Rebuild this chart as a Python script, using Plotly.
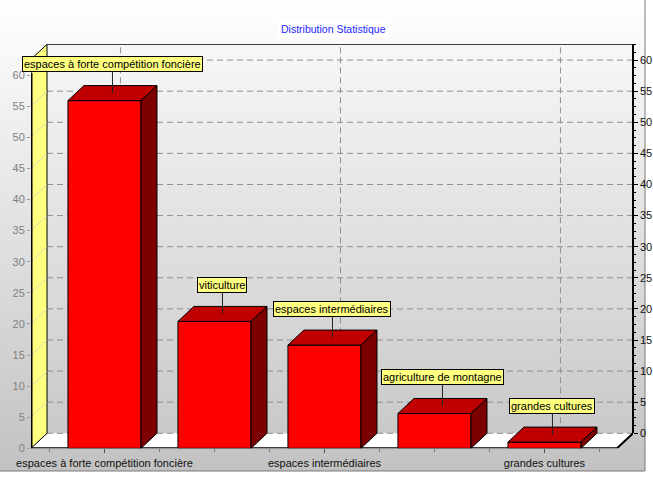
import plotly.graph_objects as go

categories = [
    "espaces à forte compétition foncière",
    "viticulture",
    "espaces intermédiaires",
    "agriculture de montagne",
    "grandes cultures",
]
values = [55.9, 20.4, 16.6, 5.6, 1.0]
y_ticks = list(range(0, 61, 5))
x_label_idx = [0, 2, 4]

W, H = 653, 479
FONT = "Liberation Sans, Arial, sans-serif"

# pixel frame of the pseudo 3D box (front-left / front-bottom, back-right / back-top)
FRONT_L, BACK_R = 31, 633
FRONT_B, BACK_T = 448.3, 44.3
X_RANGE = [-0.668, 4.805]
Y_RANGE = [0, 64.95]
px_x = (BACK_R - FRONT_L) / (X_RANGE[1] - X_RANGE[0])
px_y = (FRONT_B - BACK_T) / (Y_RANGE[1] - Y_RANGE[0])
DX = 16 / px_x          # depth offset in data units
DY = 15 / px_y
BAR_W = 0.664
XL, XR = X_RANGE
YTOP = Y_RANGE[1]

fig = go.Figure()

# --- subplot 1: panel background (pixel coords) ---
fig.add_trace(go.Scatter(
    x=[0, 645, 645, 0, 0], y=[H - 471, H - 471, H, H, H - 471],
    mode="lines", line=dict(width=0), fill="toself",
    fillgradient=dict(type="vertical", colorscale=[[0, "#c2c2c2"], [1, "#ffffff"]]),
    xaxis="x", yaxis="y", hoverinfo="skip", showlegend=False))
fig.add_trace(go.Scatter(
    x=[0, 645, 645], y=[H - 471, H - 471, H], mode="lines",
    line=dict(color="#7a7a7a", width=1), xaxis="x", yaxis="y",
    hoverinfo="skip", showlegend=False))

# --- subplot 2: walls, floor, grid ---
def poly(xs, ys, fill=None, line_color="black", width=1, **kw):
    fig.add_trace(go.Scatter(
        x=xs + [xs[0]] if fill else xs, y=ys + [ys[0]] if fill else ys,
        mode="lines", fill="toself" if fill else None,
        fillcolor=fill if isinstance(fill, str) else None,
        line=dict(color=line_color, width=width, **kw.pop("line_kw", {})),
        xaxis="x2", yaxis="y2", hoverinfo="skip", showlegend=False, **kw))

# back wall
fig.add_trace(go.Scatter(
    x=[XL + DX, XR, XR, XL + DX, XL + DX], y=[DY, DY, YTOP, YTOP, DY],
    mode="lines", line=dict(width=0), fill="toself",
    fillgradient=dict(type="vertical", colorscale=[[0, "#c9c9c9"], [1, "#f7f7f7"]]),
    xaxis="x2", yaxis="y2", hoverinfo="skip", showlegend=False))

# floor
poly([XL, XR - DX, XR, XL + DX], [0, 0, DY, DY], fill="#ffffff", width=0)

# horizontal grid on back wall
gx, gy = [], []
for v in y_ticks:
    gx += [XL + DX, XR, None]
    gy += [v + DY, v + DY, None]
poly(gx, gy, line_color="#8e8e8e", width=1, line_kw=dict(dash="6px,4px"))

# vertical grid on back wall
vx, vy = [], []
for i in x_label_idx:
    vx += [i + DX, i + DX, None]
    vy += [DY, YTOP, None]
poly(vx, vy, line_color="#8e8e8e", width=1, line_kw=dict(dash="6px,4px"))

# left wall
poly([XL, XL, XL + DX, XL + DX], [0, YTOP - DY, YTOP, DY], fill="#ffff80", width=1)
dx_, dy_ = [], []
for v in y_ticks[1:]:
    dx_ += [XL, XL + DX, None]
    dy_ += [v, v + DY, None]
poly(dx_, dy_, line_color="#d9d9b0", width=1)

# frame edges
poly([XL + DX, XR], [YTOP, YTOP], width=1.5)
poly([XL, XR - DX, XR], [0, 0, DY], width=2)
poly([XL, XL], [0, 60.3], width=3)

# --- subplot 3: bars ---
idx = list(range(len(values)))
fig.add_trace(go.Bar(
    x=idx, y=values, width=BAR_W, xaxis="x3", yaxis="y3",
    marker=dict(color="#ff0000", line=dict(color="black", width=1)),
    hoverinfo="skip", showlegend=False))

for i, v in zip(idx, values):
    l, r = i - BAR_W / 2, i + BAR_W / 2
    fig.add_trace(go.Scatter(
        x=[l, r, r + DX, l + DX, l], y=[v, v, v + DY, v + DY, v],
        mode="lines", fill="toself", fillcolor="#c00000",
        line=dict(color="black", width=1), xaxis="x3", yaxis="y3",
        hoverinfo="skip", showlegend=False))
    fig.add_trace(go.Scatter(
        x=[r, r + DX, r + DX, r, r], y=[0, DY, v + DY, v, 0],
        mode="lines", fill="toself", fillcolor="#7c0000",
        line=dict(color="black", width=1), xaxis="x3", yaxis="y3",
        hoverinfo="skip", showlegend=False))

# dummy trace for the back right axis
fig.add_trace(go.Scatter(x=[None], y=[None], xaxis="x3", yaxis="y4",
                         hoverinfo="skip", showlegend=False))

# mark labels
for i, v, name in zip(idx, values, categories):
    fig.add_annotation(
        x=i + DX / 2, y=v + DY / 2, xref="x3", yref="y3", text=name,
        showarrow=True, arrowhead=0, arrowwidth=1, arrowcolor="#222",
        ax=0, ay=-29, bgcolor="#ffff80", bordercolor="black",
        borderwidth=1, borderpad=1, font=dict(family=FONT, size=11, color="black"))

fig.add_annotation(
    x=333 / W, y=1 - 29 / H, xref="paper", yref="paper", showarrow=False,
    xanchor="center", yanchor="middle",
    text="Distribution Statistique", bgcolor="#ffffff", borderpad=2,
    font=dict(family=FONT, size=10.5, color="#1e1eff"))

x_dom = [FRONT_L / W, BACK_R / W]
y_dom = [(H - FRONT_B) / H, (H - BACK_T) / H]
hidden = dict(visible=False, fixedrange=True, automargin=False)

fig.update_layout(
    width=W, height=H,
    margin=dict(l=0, r=0, t=0, b=0, pad=0, autoexpand=False),
    paper_bgcolor="#ffffff", plot_bgcolor="rgba(0,0,0,0)",
    font=dict(family=FONT, size=11, color="black"),
    showlegend=False,
    xaxis=dict(domain=[0, 1], range=[0, W], **hidden),
    yaxis=dict(domain=[0, 1], range=[0, H], **hidden),
    xaxis2=dict(domain=x_dom, range=X_RANGE, anchor="y2", **hidden),
    yaxis2=dict(domain=y_dom, range=Y_RANGE, anchor="x2", **hidden),
    xaxis3=dict(
        domain=x_dom, range=X_RANGE, anchor="y3", showgrid=False, zeroline=False,
        showline=False, tickmode="array", tickvals=x_label_idx,
        ticktext=[categories[i] for i in x_label_idx],
        ticks="outside", ticklen=4, tickcolor="#555", automargin=False,
        tickfont=dict(family=FONT, size=11, color="#111"),
        minor=dict(ticks="outside", ticklen=3, tickcolor="#777", dtick=0.5, tick0=0),
        fixedrange=True),
    yaxis3=dict(
        domain=y_dom, range=Y_RANGE, anchor="x3", showgrid=False, zeroline=False,
        showline=False, tickmode="array", tickvals=y_ticks, automargin=False,
        ticks="outside", ticklen=3, tickcolor="#9a9a9a",
        tickfont=dict(family=FONT, size=11, color="#808080"),
        fixedrange=True),
    yaxis4=dict(
        domain=[(H - (FRONT_B - 15)) / H, (H - BACK_T) / H],
        range=[0, (FRONT_B - 15 - BACK_T) / px_y],
        anchor="free", position=BACK_R / W, side="right", automargin=False,
        showgrid=False, zeroline=False, showline=True, linecolor="black", linewidth=1.5,
        tickmode="array", tickvals=y_ticks, ticks="outside", ticklen=4, tickcolor="black",
        tickfont=dict(family=FONT, size=11, color="#111"),
        minor=dict(ticks="outside", ticklen=2, tickcolor="black", dtick=1.25, tick0=0),
        fixedrange=True),
)

fig.write_html(
    "out.html", config={"displayModeBar": False},
    post_script="document.body.style.margin='0';document.body.style.overflow='hidden';")
